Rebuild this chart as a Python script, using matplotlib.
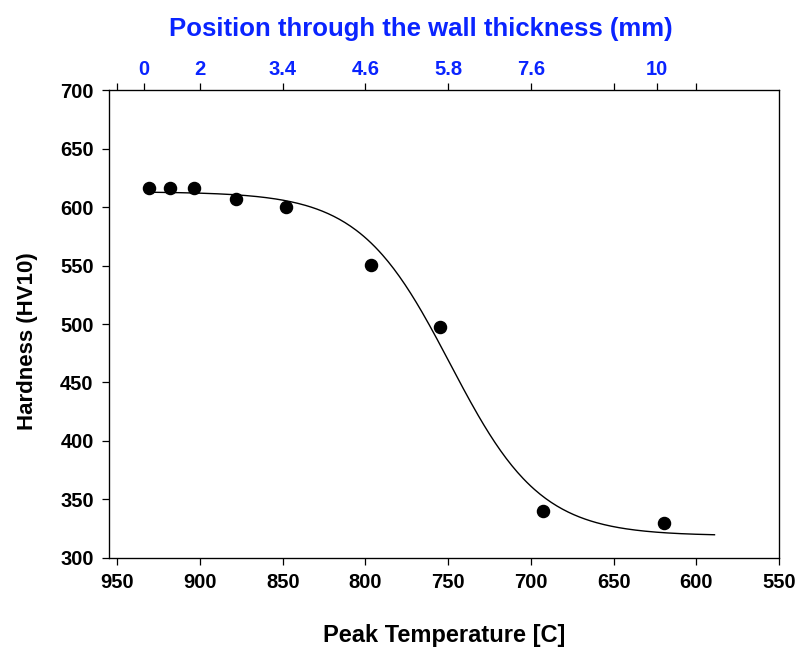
import matplotlib.pyplot as plt
import numpy as np

plt.rcParams['font.family'] = ['Liberation Sans', 'DejaVu Sans']

# measured hardness vs peak temperature
peak_temp = np.array([930.8, 918, 903.9, 878, 847.8, 796.4, 754.7, 692.9, 619.7])
hardness = np.array([616.5, 616.5, 616.5, 606.8, 600.3, 550.4, 497.2, 340.2, 330.2])

# sigmoid fit parameters
fit_y0 = 319.0
fit_a = 294.0
fit_t0 = 748.8
fit_b = 27.4
fit_t_start, fit_t_end = 928.0, 589.0

# top axis: position through the wall thickness
pos_temp = [950, 934, 900, 850, 800, 750, 700, 650, 624, 600]
pos_labels = ['', '0', '2', '3.4', '4.6', '5.8', '7.6', '', '10', '']

blue = '#0a24ff'

fig = plt.figure(figsize=(7.99, 6.48), dpi=100)
ax = fig.add_axes([0.1364, 0.1389, 0.975 - 0.1364, 0.8611 - 0.1389])

t_fit = np.linspace(fit_t_start, fit_t_end, 300)
h_fit = fit_y0 + fit_a / (1 + np.exp(-(t_fit - fit_t0) / fit_b))
ax.plot(t_fit, h_fit, color='black', linewidth=1.0)
ax.plot(peak_temp, hardness, 'o', color='black', markersize=8.7)

ax.set_xlim(955, 550)
ax.set_ylim(300, 700)
ax.set_xticks(np.arange(950, 549, -50))
ax.set_yticks(np.arange(300, 701, 50))
ax.tick_params(direction='out', length=5, width=0.9, labelsize=14.5, pad=6)
for lab in ax.get_xticklabels() + ax.get_yticklabels():
    lab.set_fontweight('bold')
for sp in ax.spines.values():
    sp.set_linewidth(0.9)

ax.set_xlabel('Peak Temperature [C]', fontsize=17, fontweight='bold', labelpad=23)
ax.set_ylabel('Hardness (HV10)', fontsize=16, fontweight='bold', labelpad=16)
ax.yaxis.label.set_y(0.464)

top = ax.twiny()
top.set_xlim(ax.get_xlim())
top.set_xticks(pos_temp)
top.set_xticklabels(pos_labels)
top.tick_params(direction='out', length=5, width=0.9, labelsize=14.5,
                labelcolor=blue, pad=3)
for lab in top.get_xticklabels():
    lab.set_fontweight('bold')
top.set_xlabel('Position through the wall thickness (mm)', fontsize=18.5,
               fontweight='bold', color=blue, labelpad=17)
top.xaxis.label.set_x(0.465)

fig.savefig('out.png', dpi=100)
